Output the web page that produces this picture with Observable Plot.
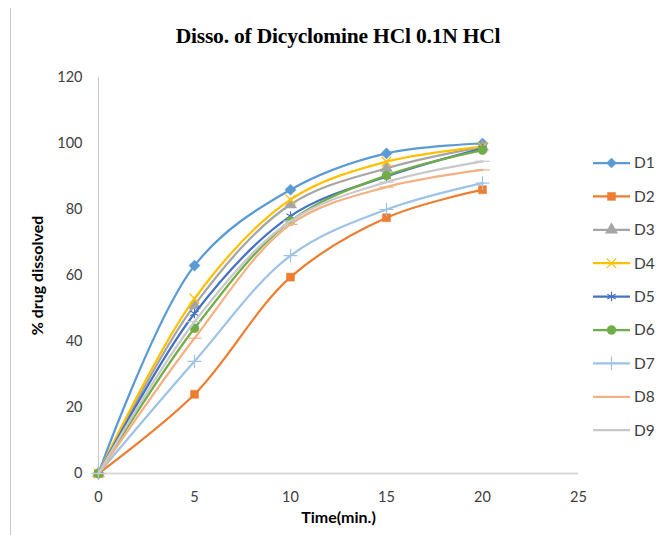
<!DOCTYPE html>
<html>
<head>
<meta charset="utf-8">
<script src="https://cdn.jsdelivr.net/npm/d3@7"></script>
<script src="https://cdn.jsdelivr.net/npm/@observablehq/plot@0.6"></script>
<style>
  html, body { margin: 0; padding: 0; background: #fff; }
  #wrap { position: relative; width: 664px; height: 535px; overflow: hidden; font-family: Lato, "Open Sans", sans-serif; }
  #frame { position: absolute; left: 10px; top: 8px; width: 0; height: 527px; border-left: 1px solid #c8c8c8; }
  #title { position: absolute; left: 0; width: 676px; top: 24px; text-align: center;
           font-family: "Liberation Serif", "DejaVu Serif", serif; font-weight: bold; font-size: 21.5px; color: #000; letter-spacing: -0.2px; }
  #legend { position: absolute; left: 585px; top: 145px; }
</style>
</head>
<body>
<div id="wrap">
  <div id="frame"></div>
  <div id="title">Disso. of Dicyclomine HCl 0.1N HCl</div>
  <div id="chart"></div>
  <div id="legend"></div>
</div>
<script>
const times = [0, 5, 10, 15, 20];
const seriesNames = ["D1", "D2", "D3", "D4", "D5", "D6", "D7", "D8", "D9"];
const D1 = [0, 63, 86, 97, 100];
const D2 = [0, 24, 59.5, 77.5, 86];
const D3 = [0, 51, 81.5, 92.5, 99];
const D4 = [0, 53, 83, 94.5, 99];
const D5 = [0, 48.5, 78, 90, 98.5];
const D6 = [0, 44, 76.5, 90.3, 98];
const D7 = [0, 34, 66, 80, 88];
const D8 = [0, 41, 75.5, 86.8, 92];
const D9 = [0, 46, 76.5, 88.3, 94.6];
const seriesValues = [D1, D2, D3, D4, D5, D6, D7, D8, D9];
const seriesColors = ["#5B9BD5", "#ED7D31", "#A5A5A5", "#FFC000", "#4472C4", "#70AD47", "#9DC3E6", "#F4B183", "#C9C9C9"];
const xTicks = [0, 5, 10, 15, 20, 25];
const yTicks = [0, 20, 40, 60, 80, 100, 120];

// marker styles (Excel defaults): filled or stroked
const dashSymbol = { draw(ctx, size) { const w = Math.sqrt(size) * 0.9; ctx.moveTo(-w, 0); ctx.lineTo(w, 0); } };
const markerSymbols = ["diamond2", "square", "triangle", "times", "asterisk", "circle", "plus", dashSymbol, dashSymbol];
const markerFilled = [true, true, true, false, false, true, false, false, false];

const rows = [];
seriesNames.forEach((name, i) => {
  times.forEach((t, j) => rows.push({ series: name, time: t, value: seriesValues[i][j], filled: markerFilled[i] }));
});

const chart = Plot.plot({
  width: 664,
  height: 535,
  marginLeft: 98,
  marginRight: 86,
  marginTop: 77,
  marginBottom: 62,
  style: { fontFamily: "Lato, 'Open Sans', sans-serif", fontSize: "14.5px", color: "#404040", background: "transparent" },
  x: { domain: [0, 25], ticks: xTicks, tickSize: 0, tickPadding: 18, label: null },
  y: { domain: [0, 120], ticks: yTicks, tickSize: 0, tickPadding: 16, label: null },
  color: { domain: seriesNames, range: seriesColors },
  symbol: { domain: seriesNames, range: markerSymbols },
  marks: [
    Plot.ruleX([0], { stroke: "#c8c8c8", strokeWidth: 1 }),
    Plot.ruleY([0], { stroke: "#d9d9d9", strokeWidth: 2 }),
    ...seriesNames.flatMap((name, i) => {
      const d = rows.filter(r => r.series === name);
      return [
        Plot.line(d, { x: "time", y: "value", stroke: "series", strokeWidth: 2.25, curve: "catmull-rom" }),
        markerFilled[i]
          ? Plot.dot(d, { x: "time", y: "value", symbol: "series", fill: "series", stroke: "series", strokeWidth: 0.5, r: name === "D1" ? 5 : 4.5 })
          : Plot.dot(d, { x: "time", y: "value", symbol: "series", stroke: "series", strokeWidth: 1.2, r: 4.5 })
      ];
    }),
    Plot.text(["% drug dissolved"], { frameAnchor: "left", dx: -61, rotate: -90, textAnchor: "middle", fontWeight: "bold", fontSize: 16, fill: "#000" }),
    Plot.text(["Time(min.)"], { frameAnchor: "bottom", dy: 49, fontWeight: "bold", fontSize: 16, fill: "#000" })
  ]
});
document.getElementById("chart").appendChild(chart);

// Legend built with d3 from the same arrays
const rowH = 33.4;
const lg = d3.select("#legend").append("svg")
  .attr("width", 79).attr("height", 300)
  .style("overflow", "visible");
const symGen = (s, r) => {
  const map = { diamond2: d3.symbolDiamond2, square: d3.symbolSquare, triangle: d3.symbolTriangle, times: d3.symbolTimes,
                asterisk: d3.symbolAsterisk, circle: d3.symbolCircle, plus: d3.symbolPlus };
  const type = typeof s === "string" ? map[s] : s;
  return d3.symbol(type, Math.PI * r * r)();
};
seriesNames.forEach((name, i) => {
  const g = lg.append("g").attr("transform", `translate(0, ${18 + i * rowH})`);
  g.append("line").attr("x1", 8).attr("x2", 45).attr("y1", 0).attr("y2", 0)
    .attr("stroke", seriesColors[i]).attr("stroke-width", 2.25);
  g.append("path").attr("transform", "translate(26.5,0)")
    .attr("d", symGen(markerSymbols[i], 4.5))
    .attr("fill", markerFilled[i] ? seriesColors[i] : "none")
    .attr("stroke", seriesColors[i]).attr("stroke-width", markerFilled[i] ? 0.5 : 1.2);
  g.append("text").attr("x", 49).attr("y", 0).attr("dy", "0.35em")
    .attr("font-family", "Lato, 'Open Sans', sans-serif").attr("font-size", 15.5).attr("fill", "#404040")
    .text(name);
});
</script>
</body>
</html>
